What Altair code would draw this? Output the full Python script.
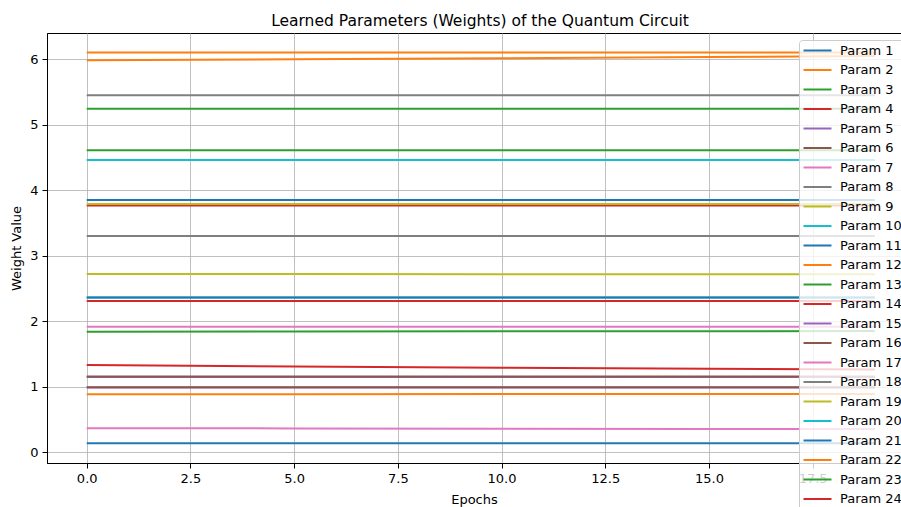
import altair as alt
import pandas as pd

# ---- data ----
params = ["Param 1", "Param 2", "Param 3", "Param 4", "Param 5", "Param 6",
          "Param 7", "Param 8", "Param 9", "Param 10", "Param 11", "Param 12",
          "Param 13", "Param 14", "Param 15", "Param 16", "Param 17", "Param 18",
          "Param 19", "Param 20", "Param 21", "Param 22", "Param 23", "Param 24"]

epochs_read = [0, 5, 10, 15, 19]

w_epoch0 = [3.85, 6.10, 5.24, 3.765, 1.150, 1.155, 1.915, 5.446, 3.79, 4.46, 0.137, 5.98,
            4.61, 2.31, 0.987, 0.992, 0.368, 3.30, 2.72, 2.363, 2.36, 0.885, 1.84, 1.332]
w_epoch5 = [3.85, 6.10, 5.24, 3.765, 1.150, 1.155, 1.915, 5.446, 3.79, 4.46, 0.137, 5.995,
            4.61, 2.31, 0.987, 0.992, 0.365, 3.30, 2.719, 2.363, 2.36, 0.887, 1.843, 1.310]
w_epoch10 = [3.85, 6.10, 5.24, 3.765, 1.150, 1.155, 1.915, 5.446, 3.79, 4.46, 0.137, 6.010,
             4.61, 2.31, 0.987, 0.992, 0.361, 3.30, 2.717, 2.363, 2.36, 0.888, 1.846, 1.290]
w_epoch15 = [3.85, 6.10, 5.24, 3.765, 1.150, 1.155, 1.915, 5.446, 3.79, 4.46, 0.137, 6.030,
             4.61, 2.31, 0.987, 0.992, 0.357, 3.30, 2.716, 2.363, 2.36, 0.889, 1.848, 1.274]
w_epoch19 = [3.85, 6.10, 5.24, 3.765, 1.150, 1.155, 1.915, 5.446, 3.79, 4.46, 0.137, 6.045,
             4.61, 2.31, 0.987, 0.992, 0.355, 3.30, 2.715, 2.363, 2.36, 0.890, 1.850, 1.265]

x_ticks = [0, 2.5, 5, 7.5, 10, 12.5, 15, 17.5]
y_ticks = [0, 1, 2, 3, 4, 5, 6]

tab10 = ["#1f77b4", "#ff7f0e", "#2ca02c", "#d62728", "#9467bd",
         "#8c564b", "#e377c2", "#7f7f7f", "#bcbd22", "#17becf"]

# ---- build long table ----
rows = []
columns = [w_epoch0, w_epoch5, w_epoch10, w_epoch15, w_epoch19]
for i, name in enumerate(params):
    for e, col in zip(epochs_read, columns):
        rows.append({"param": name, "epoch": e, "weight": col[i]})
df = pd.DataFrame(rows)

colors = [tab10[i % 10] for i in range(len(params))]

FONT = "DejaVu Sans"

legend = alt.Legend(
    title=None,
    orient="none",
    legendX=752,
    legendY=7,
    symbolType="M-3,0H3",
    symbolSize=87,
    symbolStrokeWidth=2,
    symbolOffset=8,
    labelOffset=16,
    labelFont=FONT,
    labelFontSize=13,
    labelColor="black",
    rowPadding=5.5,
    padding=4,
    fillColor="rgba(255,255,255,0.8)",
    strokeColor="#cccccc",
    cornerRadius=3,
    zindex=5,
    labelLimit=0,
)

chart = alt.Chart(df).mark_line(strokeWidth=2, clip=True).encode(
    x=alt.X("epoch:Q",
            scale=alt.Scale(domain=[-0.957, 19.63], nice=False, zero=False),
            axis=alt.Axis(values=x_ticks, format=".1f", title="Epochs",
                          titlePadding=8)),
    y=alt.Y("weight:Q",
            scale=alt.Scale(domain=[-0.163, 6.397], nice=False, zero=False),
            axis=alt.Axis(values=y_ticks, format="d", title="Weight Value",
                          titlePadding=6)),
    color=alt.Color("param:N", scale=alt.Scale(domain=params, range=colors),
                    legend=legend),
).properties(
    width=854,
    height=430,
    background="white",
    title=alt.TitleParams("Learned Parameters (Weights) of the Quantum Circuit",
                          font=FONT, fontSize=15.5, fontWeight="normal",
                          color="black", anchor="middle", dx=6, offset=8,
                          dy=16, baseline="alphabetic"),
    autosize=alt.AutoSizeParams(type="none"),
    padding={"left": 47, "top": 33, "right": 0, "bottom": 44},
).configure_view(
    stroke="black", strokeWidth=1
).configure_axis(
    labelFont=FONT, labelFontSize=13, labelColor="black",
    titleFont=FONT, titleFontSize=13, titleFontWeight="normal", titleColor="black",
    domainColor="black", domainWidth=1,
    tickColor="black", tickSize=5, tickWidth=1, labelPadding=4,
    gridColor="#b0b0b0", gridWidth=0.8, gridOpacity=1,
)

chart.save("out.html", embed_options={"renderer": "svg", "actions": False})
